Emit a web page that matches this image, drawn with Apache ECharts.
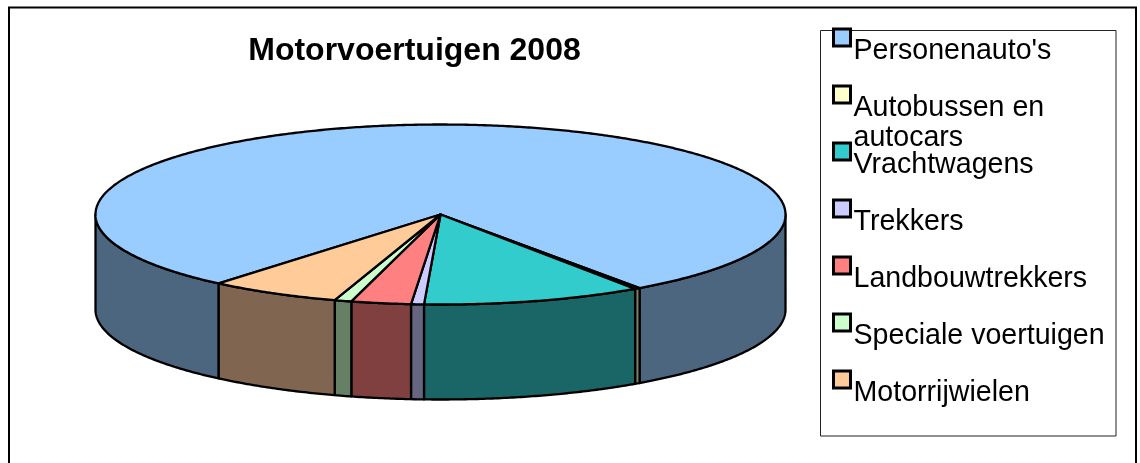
<!DOCTYPE html>
<html>
<head>
<meta charset="utf-8">
<style>html,body{margin:0;padding:0;background:#fff}#c{width:1140px;height:463px}</style>
<script src="https://cdn.jsdelivr.net/npm/echarts@6/dist/echarts.min.js"></script>
</head>
<body>
<div id="c"></div>
<script>
const categories = ["Personenauto's", 'Autobussen en autocars', 'Vrachtwagens', 'Trekkers', 'Landbouwtrekkers', 'Speciale voertuigen', 'Motorrijwielen'];
const legendLabels = ["Personenauto's", 'Autobussen en\nautocars', 'Vrachtwagens', 'Trekkers', 'Landbouwtrekkers', 'Speciale voertuigen', 'Motorrijwielen'];
const shares = [79.1, 0.25, 10.3, 0.6, 2.8, 0.8, 6.15];
const colors = ['#99CCFF', '#FFFFCC', '#33CCCC', '#CCCCFF', '#FF8080', '#CCFFCC', '#FFCC99'];
const wallColors = ['#4D6680', '#808066', '#1A6666', '#666680', '#804040', '#668066', '#806650'];

const total = shares.reduce((a, b) => a + b, 0);
const startDeg = 130.0;
const pie = { cx: 440.5, cy: 214.5, rx: 345, ry: 90, depth: 95 };
const legendTop = 27.5, legendStep = 57;

function rim(deg, drop) {
  const t = deg * Math.PI / 180;
  return [pie.cx + pie.rx * Math.cos(t), pie.cy + pie.ry * Math.sin(t) + drop];
}
function arcPoints(a, b, drop) {
  const n = Math.max(2, Math.ceil(Math.abs(b - a) * 2));
  const pts = [];
  for (let i = 0; i <= n; i++) pts.push(rim(a + (b - a) * i / n, drop));
  return pts;
}
const lineStyle = { stroke: '#000', lineWidth: 2.3, lineJoin: 'round' };

function renderSlice(params, api) {
  const i = params.seriesIndex;
  const before = shares.slice(0, i).reduce((a, b) => a + b, 0);
  const a = startDeg + before / total * 360;
  const b = a + api.value(0) / total * 360;
  const children = [];
  // the visible outer wall is the part of the rim in the front half (0-180, repeating)
  for (const k of [0, 360]) {
    const lo = Math.max(a, k), hi = Math.min(b, k + 180);
    if (hi > lo) {
      const top = arcPoints(lo, hi, 0);
      const bottom = arcPoints(hi, lo, pie.depth);
      children.push({
        type: 'polygon', z2: 1,
        shape: { points: top.concat(bottom) },
        style: Object.assign({ fill: wallColors[i] }, lineStyle)
      });
    }
  }
  children.push({
    type: 'polygon', z2: 2,
    shape: { points: [[pie.cx, pie.cy]].concat(arcPoints(a, b, 0)) },
    style: Object.assign({ fill: colors[i] }, lineStyle)
  });
  return { type: 'group', children };
}

const chart = echarts.init(document.getElementById('c'), null, { renderer: 'canvas' });
chart.setOption({
  animation: false,
  backgroundColor: '#fff',
  title: {
    text: 'Motorvoertuigen 2008',
    left: 414.5, top: 35, textAlign: 'center', padding: 0,
    textStyle: { fontFamily: 'Liberation Sans', fontWeight: 'bold', fontSize: 32, color: '#000' }
  },
  // one legend per entry: the entries keep an even pitch although one label wraps over the next
  legend: categories.map((name, i) => ({
    data: [name],
    orient: 'vertical',
    left: 832, top: legendTop + i * legendStep, padding: 0,
    itemWidth: 17, itemHeight: 17,
    selectedMode: false,
    icon: 'rect',
    itemStyle: { borderColor: '#000', borderWidth: 3 },
    formatter: () => legendLabels[i].split('\n').map(s => '{t|' + s + '}').join('\n'),
    textStyle: {
      height: 27,
      padding: [25, 0, 0, -2],
      rich: { t: { fontFamily: 'Liberation Sans', fontSize: 28.6, color: '#000', lineHeight: 30 } }
    }
  })),
  graphic: [
    { type: 'rect', silent: true, z: 0, shape: { x: 9, y: 7.5, width: 1127, height: 480 },
      style: { fill: 'none', stroke: '#000', lineWidth: 2 } },
    { type: 'rect', silent: true, z: 0, shape: { x: 820.5, y: 30.5, width: 295.5, height: 405.5 },
      style: { fill: '#fff', stroke: '#222', lineWidth: 1 } }
  ],
  series: categories.map((name, i) => ({
    type: 'custom',
    name,
    coordinateSystem: 'none',
    clip: false,
    silent: true,
    itemStyle: { color: colors[i] },
    renderItem: renderSlice,
    data: [[shares[i]]]
  }))
});
</script>
</body>
</html>
